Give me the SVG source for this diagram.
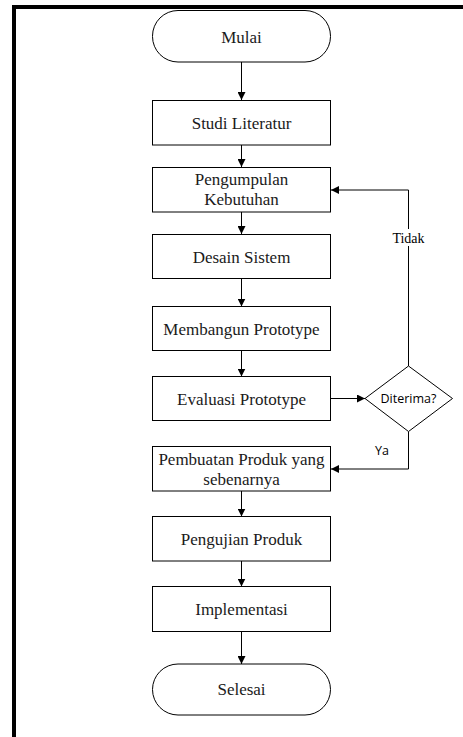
<svg xmlns="http://www.w3.org/2000/svg" width="463" height="737" viewBox="0 0 463 737">
<style>
.box{fill:#fff;stroke:#000;stroke-width:1}
.t{font-family:"Liberation Serif","DejaVu Serif",serif;font-size:17px;fill:#1a1a1a;text-anchor:middle}
.s{font-family:"Open Sans","Liberation Sans",sans-serif;font-size:12.5px;fill:#000;text-anchor:middle}
.ln{fill:none;stroke:#000;stroke-width:1}
</style>
<defs>
<marker id="ah" viewBox="0 0 10 10" refX="10" refY="5" markerWidth="8" markerHeight="8" markerUnits="userSpaceOnUse" orient="auto">
<path d="M0,0 L10,5 L0,10 z" fill="#000"/>
</marker>
</defs>
<rect x="0" y="0" width="463" height="737" fill="#fff"/>
<path d="M14,737 V7 H463" fill="none" stroke="#000" stroke-width="4"/>
<g id="connectors">
<path class="ln" d="M241.5,62 V100" marker-end="url(#ah)"/>
<path class="ln" d="M241.5,145 V167" marker-end="url(#ah)"/>
<path class="ln" d="M241.5,212 V234" marker-end="url(#ah)"/>
<path class="ln" d="M241.5,278.5 V306.5" marker-end="url(#ah)"/>
<path class="ln" d="M241.5,350.5 V376.5" marker-end="url(#ah)"/>
<path class="ln" d="M331,398.5 H365" marker-end="url(#ah)"/>
<path class="ln" d="M408.5,366 V190 H331" marker-end="url(#ah)"/>
<path class="ln" d="M408.5,431.5 V469 H331" marker-end="url(#ah)"/>
<path class="ln" d="M241.5,491 V516.5" marker-end="url(#ah)"/>
<path class="ln" d="M241.5,561 V586.5" marker-end="url(#ah)"/>
<path class="ln" d="M241.5,631.5 V664" marker-end="url(#ah)"/>
<rect x="389" y="229" width="39" height="17" fill="#fff"/>
<text x="408.5" y="242.5" style="font-family:'Liberation Serif','DejaVu Serif',serif;font-size:14px;text-anchor:middle">Tidak</text>
<text class="s" x="382" y="455">Ya</text>
</g>
<g id="mulai">
<rect class="box" x="152.5" y="10.5" width="178" height="51.5" rx="25.5" ry="25.5"/>
<text class="t" x="241.5" y="42.5">Mulai</text>
</g>
<g id="studi">
<rect class="box" x="152.5" y="100.5" width="178" height="44.5"/>
<text class="t" x="241.5" y="128.5">Studi Literatur</text>
</g>
<g id="pengumpulan">
<rect class="box" x="152.5" y="167.5" width="178" height="44.5"/>
<text class="t" x="241.5" y="185">Pengumpulan</text>
<text class="t" x="241.5" y="205">Kebutuhan</text>
</g>
<g id="desain">
<rect class="box" x="152.5" y="234.5" width="178" height="44"/>
<text class="t" x="241.5" y="262.5">Desain Sistem</text>
</g>
<g id="membangun">
<rect class="box" x="152.5" y="306.5" width="178" height="44"/>
<text class="t" x="241.5" y="334.5">Membangun Prototype</text>
</g>
<g id="evaluasi">
<rect class="box" x="152.5" y="376.5" width="178" height="44"/>
<text class="t" x="241.5" y="404.5">Evaluasi Prototype</text>
</g>
<g id="diterima">
<path class="box" d="M408.5,366 L452.5,398.5 L408.5,431.5 L365,398.5 Z"/>
<text class="s" x="408.5" y="403">Diterima?</text>
</g>
<g id="pembuatan">
<rect class="box" x="152.5" y="446.5" width="178" height="44.5"/>
<text class="t" x="241.5" y="465">Pembuatan Produk yang</text>
<text class="t" x="241.5" y="485">sebenarnya</text>
</g>
<g id="pengujian">
<rect class="box" x="152.5" y="516.5" width="178" height="44.5"/>
<text class="t" x="241.5" y="544.5">Pengujian Produk</text>
</g>
<g id="implementasi">
<rect class="box" x="152.5" y="586.5" width="178" height="45"/>
<text class="t" x="241.5" y="614.5">Implementasi</text>
</g>
<g id="selesai">
<rect class="box" x="152.5" y="664" width="178" height="51" rx="25.5" ry="25.5"/>
<text class="t" x="241.5" y="695">Selesai</text>
</g>
</svg>
